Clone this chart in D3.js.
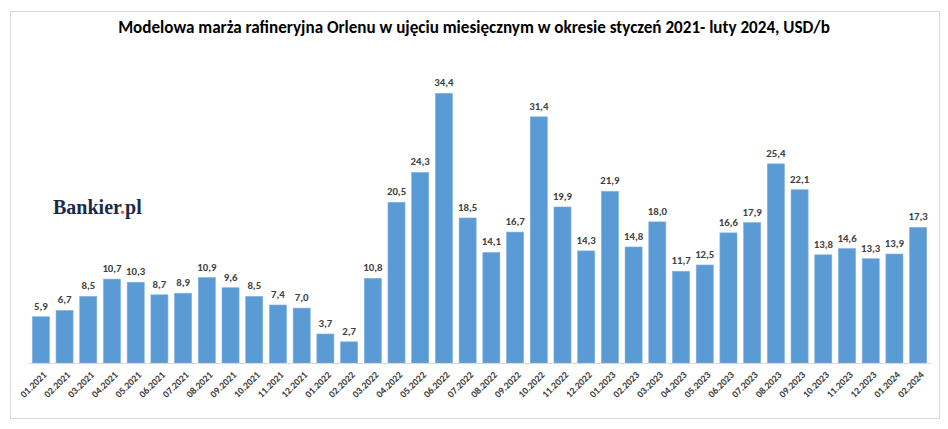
<!DOCTYPE html>
<html><head><meta charset="utf-8">
<script src="https://cdn.jsdelivr.net/npm/d3@7"></script>
<style>body{margin:0;background:#fff}svg{display:block}</style>
</head><body>
<svg id="c" width="948" height="429"></svg>
<script>
const categories = ["01.2021","02.2021","03.2021","04.2021","05.2021","06.2021","07.2021","08.2021","09.2021","10.2021","11.2021","12.2021",
"01.2022","02.2022","03.2022","04.2022","05.2022","06.2022","07.2022","08.2022","09.2022","10.2022","11.2022","12.2022",
"01.2023","02.2023","03.2023","04.2023","05.2023","06.2023","07.2023","08.2023","09.2023","10.2023","11.2023","12.2023",
"01.2024","02.2024"];
const values = [5.9,6.7,8.5,10.7,10.3,8.7,8.9,10.9,9.6,8.5,7.4,7.0,
3.7,2.7,10.8,20.5,24.3,34.4,18.5,14.1,16.7,31.4,19.9,14.3,
21.9,14.8,18.0,11.7,12.5,16.6,17.9,25.4,22.1,13.8,14.6,13.3,
13.9,17.3];
const title = "Modelowa marża rafineryjna Orlenu w ujęciu miesięcznym w okresie styczeń 2021- luty 2024, USD/b";

const svg = d3.select("#c");
const font = "Carlito, Lato, 'Liberation Sans', Arial, sans-serif";
svg.append("rect").attr("x",10.5).attr("y",11.5).attr("width",929).attr("height",407)
  .attr("fill","#fff").attr("stroke","#d9d9d9");

svg.append("text").attr("x",474).attr("y",33).attr("text-anchor","middle")
  .attr("font-family",font).attr("font-weight","bold").attr("font-size",17.1).attr("fill","#000").text(title);

const x = d3.scaleBand().domain(categories).range([29,930]).paddingInner(0.28).paddingOuter(0.14);
const y = d3.scaleLinear().domain([0,34.4]).range([363,93.3]);

const g = svg.append("g");
g.selectAll("rect.bar").data(values).join("rect").attr("class","bar")
  .attr("x",(d,i)=>x(categories[i])).attr("width",x.bandwidth())
  .attr("y",d=>y(d)).attr("height",d=>y(0)-y(d))
  .attr("fill","#5b9bd5").attr("stroke","#7fb1e0").attr("stroke-width",0.6);

g.selectAll("text.val").data(values).join("text").attr("class","val")
  .attr("x",(d,i)=>x(categories[i])+x.bandwidth()/2).attr("y",d=>y(d)-7)
  .attr("text-anchor","middle").attr("font-family",font).attr("font-weight","bold")
  .attr("font-size",10.8).attr("fill","#404040")
  .text(d=>d.toFixed(1).replace(".",","));

const ax = svg.append("g").attr("transform","translate(0,363)")
  .call(d3.axisBottom(x).tickSize(0).tickPadding(0));
ax.select(".domain").attr("stroke","#d9d9d9").attr("stroke-width",1.2);
ax.selectAll("text").attr("font-family",font).attr("font-weight","bold").attr("font-size",9.8)
  .attr("fill","#404040").attr("text-anchor","end")
  .attr("transform","translate(4,10) rotate(-45)").attr("dy","0.35em");

const logo = svg.append("text").attr("x",53).attr("y",214)
  .attr("font-family","'Liberation Serif', 'DejaVu Serif', serif").attr("font-weight","bold")
  .attr("font-size",20).attr("fill","#1b2a4a");
logo.append("tspan").text("Bankier");
logo.append("tspan").attr("fill","#f26522").text(".");
logo.append("tspan").text("pl");
</script>
</body></html>
